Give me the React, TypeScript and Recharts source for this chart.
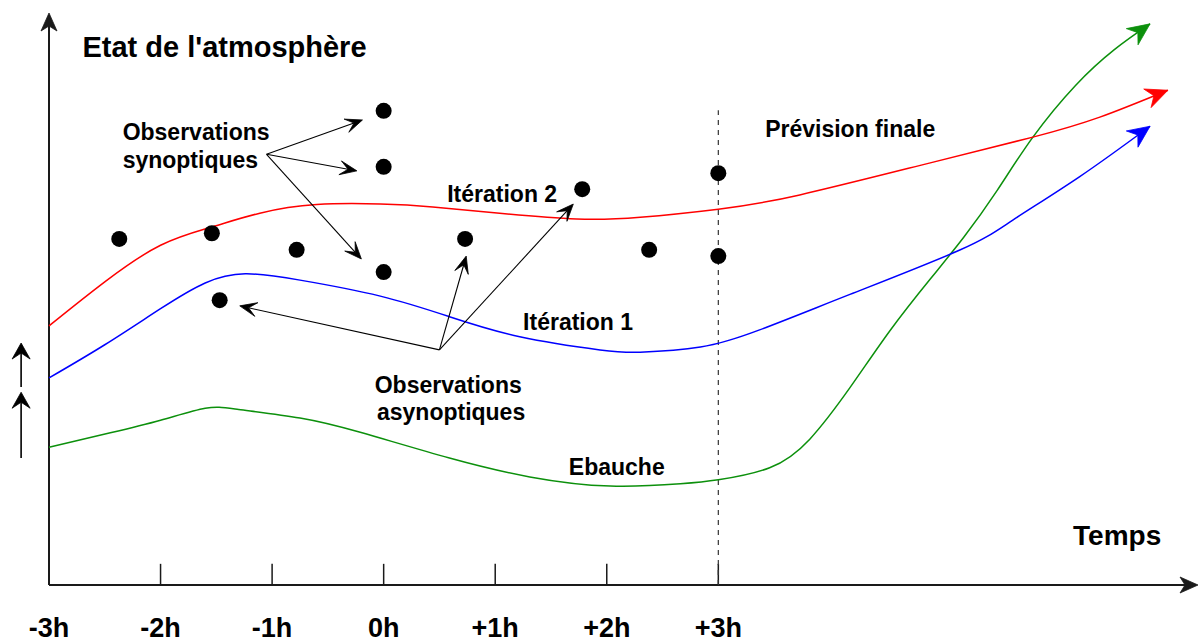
import React from 'react';
import { ComposedChart, Line, Scatter, XAxis, YAxis, ReferenceLine, ReferenceDot } from 'recharts';

// ---- Data (x in hours, y in arbitrary "state" units 0..100) ----
const hours = [-3, -2, -1, 0, 1, 2, 3];
const hourLabels = ['-3h', '-2h', '-1h', '0h', '+1h', '+2h', '+3h'];

const ebaucheH = [-3, -2.45, -2, -1.6, -1.3, -0.75, -0.21, 0.59, 1.31, 2.03, 2.66, 3, 3.46, 3.82, 4.18, 4.54, 4.9, 5.2, 5.5, 5.82, 6.2, 6.55, 6.87];
const ebaucheV = [24.1, 26.6, 28.8, 30.9, 30.7, 29.2, 26.7, 22.2, 18.9, 17.3, 17.7, 18.4, 20.5, 25.5, 34.5, 44.5, 53.5, 60.8, 69.0, 78.3, 87.3, 93.6, 98.1];

const iter1H = [-3, -2.5, -2, -1.6, -1.24, -0.75, -0.03, 0.59, 1.22, 1.94, 2.3, 2.84, 3.37, 4.18, 5.17, 5.64, 6.24, 6.87];
const iter1V = [36.2, 42.0, 48.3, 52.8, 54.4, 53.3, 50.5, 46.9, 43.4, 41.1, 40.7, 41.6, 44.6, 50.8, 58.6, 63.8, 71.4, 80.2];

const iter2H = [-3, -2.5, -2, -1.54, -1.11, -0.6, -0.03, 0.44, 1.04, 1.73, 2.3, 3, 3.73, 4.9, 5.82, 6.42, 7.03];
const iter2V = [45.3, 53.0, 59.4, 62.6, 65.0, 66.5, 66.6, 66.1, 65.0, 64.0, 64.3, 65.7, 68.2, 73.8, 78.3, 81.8, 86.5];

const obsH = [-2.37, -1.54, -1.47, -0.78, 0, 0, 0, 0.73, 1.78, 2.38, 3, 3];
const obsV = [60.5, 61.5, 49.8, 58.6, 82.9, 73.1, 54.7, 60.5, 69.2, 58.6, 72.0, 57.5];

// annotation arrows: [fromH, fromV, toH, toV]
const synoptiqueArrows = [
  [-1.05, 75.3, -0.19, 81.3],
  [-1.05, 75.3, -0.24, 72.4],
  [-1.05, 75.3, -0.2, 57.0],
];
const asynoptiqueArrows = [
  [0.5, 41.1, -1.29, 48.8],
  [0.5, 41.1, 0.74, 57.5],
  [0.5, 41.1, 1.7, 66.6],
];
const incrementArrows = [
  [-3.25, 34.6, -3.25, 42.3],
  [-3.25, 22.2, -3.25, 33.7],
];

const labelsText = ["Etat de l'atmosphère", 'Observations', 'synoptiques', 'Itération 2', 'Itération 1', 'Observations', 'asynoptiques', 'Ebauche', 'Prévision finale', 'Temps'];
const labelsH = [-2.7, -2.34, -2.34, 0.57, 1.25, -0.08, -0.06, 1.66, 3.42, 6.18];
const labelsV = [92.3, 77.8, 72.9, 67.0, 44.6, 33.6, 28.8, 19.2, 78.3, 7.0];
const labelsSize = [29, 23, 23, 23, 23, 23, 23, 23, 23, 28];

const zip = (hs: number[], vs: number[]) => hs.map((h, i) => ({ h, v: vs[i] }));
const ebauche = zip(ebaucheH, ebaucheV);
const iter1 = zip(iter1H, iter1V);
const iter2 = zip(iter2H, iter2V);
const obs = zip(obsH, obsV);

const FONT = '"Liberation Sans", Arial, sans-serif';
const RED = '#ff0000';
const BLUE = '#0000ff';
const GREEN = '#0c900c';

function headPath(x1: number, y1: number, x2: number, y2: number, L: number, W: number, N: number) {
  const dx = x2 - x1, dy = y2 - y1;
  const len = Math.hypot(dx, dy) || 1;
  const ux = dx / len, uy = dy / len;
  const nx = -uy, ny = ux;
  const bx = x2 - ux * L, by = y2 - uy * L;
  const mx = x2 - ux * (L - N), my = y2 - uy * (L - N);
  return {
    d: `M${x2},${y2} L${bx + nx * W},${by + ny * W} L${mx},${my} L${bx - nx * W},${by - ny * W} Z`,
    mx, my,
  };
}

const makeArrow = (color: string, sw: number, L: number, W: number, N: number, withLine: boolean) => (p: any) => {
  const { x1, y1, x2, y2 } = p;
  if ([x1, y1, x2, y2].some((v) => typeof v !== 'number' || isNaN(v))) return <g />;
  const hp = headPath(x1, y1, x2, y2, L, W, N);
  return (
    <g>
      {withLine && <line x1={x1} y1={y1} x2={hp.mx} y2={hp.my} stroke={color} strokeWidth={sw} />}
      <path d={hp.d} fill={color} stroke={color} strokeWidth={0.8} strokeLinejoin="miter" />
    </g>
  );
};

const annotArrow = makeArrow('#000', 1.1, 17, 7, 8, true);
const axisArrow = makeArrow('#1a1a1a', 2, 18, 8, 5, true);
const smallArrow = makeArrow('#000', 1.6, 16, 9, 6, true);

const last2 = (arr: { h: number; v: number }[]) => [arr[arr.length - 2], arr[arr.length - 1]];

export default function App() {
  return (
    <div style={{ position: 'absolute', left: 0, top: 0, width: 1201, height: 642, background: '#fff' }}>
      <ComposedChart width={1201} height={642} margin={{ top: 13, right: 3, bottom: 0, left: 49 }}>
        <XAxis
          dataKey="h"
          type="number"
          domain={[-3, 7.3]}
          ticks={hours}
          interval={0}
          tickFormatter={(v: number) => hourLabels[hours.indexOf(v)] ?? ''}
          axisLine={false}
          tickLine={false}
          tickSize={0}
          tickMargin={33}
          height={57}
          tick={{ fontSize: 27, fontWeight: 'bold', fill: '#000', fontFamily: FONT }}
        />
        <YAxis type="number" domain={[0, 100]} hide />

        {/* axes with arrows */}
        <ReferenceLine segment={[{ x: -3, y: 0 }, { x: 7.3, y: 0 }]} ifOverflow="visible" shape={axisArrow} />
        <ReferenceLine segment={[{ x: -3, y: 0 }, { x: -3, y: 100 }]} ifOverflow="visible" shape={axisArrow} />

        {/* tick marks, drawn upward */}
        {hours.slice(1).map((h) => (
          <ReferenceLine key={'t' + h} segment={[{ x: h, y: 0 }, { x: h, y: 3.7 }]} stroke="#1a1a1a" strokeWidth={1.5} ifOverflow="visible" />
        ))}

        {/* dashed analysis-time line */}
        <ReferenceLine segment={[{ x: 3, y: 0 }, { x: 3, y: 83 }]} stroke="#333" strokeWidth={1.2} strokeDasharray="5 5" ifOverflow="visible" />

        <Line data={ebauche} dataKey="v" type="natural" stroke={GREEN} strokeWidth={1.5} dot={false} isAnimationActive={false} />
        <Line data={iter1} dataKey="v" type="natural" stroke={BLUE} strokeWidth={1.5} dot={false} isAnimationActive={false} />
        <Line data={iter2} dataKey="v" type="natural" stroke={RED} strokeWidth={1.5} dot={false} isAnimationActive={false} />

        {/* curve arrowheads */}
        {[
          [ebauche, GREEN],
          [iter1, BLUE],
          [iter2, RED],
        ].map(([arr, col]: any, i) => {
          const [a, b] = last2(arr);
          return (
            <ReferenceLine
              key={'h' + i}
              segment={[{ x: a.h, y: a.v }, { x: b.h, y: b.v }]}
              ifOverflow="visible"
              shape={makeArrow(col, 1.5, 22, 10, 7, false)}
            />
          );
        })}

        <Scatter
          data={obs}
          dataKey="v"
          isAnimationActive={false}
          shape={(p: any) => <circle cx={p.cx} cy={p.cy} r={8} fill="#000" />}
        />

        {/* annotation arrows */}
        {[...synoptiqueArrows, ...asynoptiqueArrows].map((a, i) => (
          <ReferenceLine key={'a' + i} segment={[{ x: a[0], y: a[1] }, { x: a[2], y: a[3] }]} ifOverflow="visible" shape={annotArrow} />
        ))}
        {incrementArrows.map((a, i) => (
          <ReferenceLine key={'i' + i} segment={[{ x: a[0], y: a[1] }, { x: a[2], y: a[3] }]} ifOverflow="visible" shape={smallArrow} />
        ))}

        {/* text labels */}
        {labelsText.map((t, i) => (
          <ReferenceDot
            key={'l' + i}
            x={labelsH[i]}
            y={labelsV[i]}
            r={1}
            ifOverflow="visible"
            shape={(p: any) => (
              <text x={p.cx} y={p.cy} fontSize={labelsSize[i]} fontWeight="bold" fontFamily={FONT} fill="#000">
                {t}
              </text>
            )}
          />
        ))}
      </ComposedChart>
    </div>
  );
}
